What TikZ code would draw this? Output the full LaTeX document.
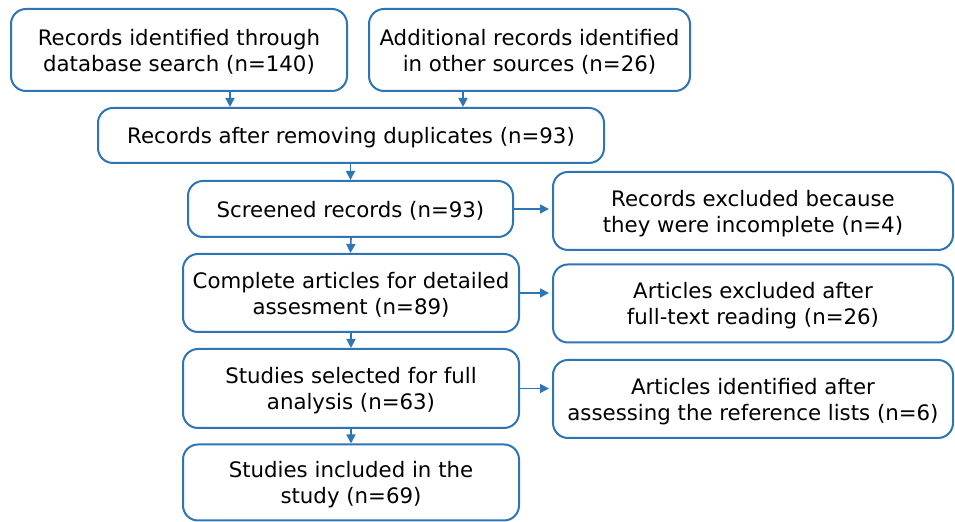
\documentclass[tikz,border=0pt]{standalone}
\usepackage{fontspec}
\setmainfont{DejaVu Sans}
\usepackage{xcolor}
\definecolor{flow-blue}{HTML}{2E75B6}
\usetikzlibrary{arrows.meta}

\begin{document}
\begin{tikzpicture}[
    x=0.5pt, y=-0.5pt,
    box/.style={
      rectangle,
      draw=flow-blue,
      line width=1pt,
      rounded corners=7.5pt,
      fill=white,
      text=black,
      inner sep=0pt,
      text depth=0pt,
      align=center,
      font=\fontsize{10.65}{13}\selectfont
    },
    arrow/.style={
      -{Triangle[length=4.5pt, width=4.5pt]},
      line width=0.8pt,
      color=flow-blue
    }
  ]
    \useasboundingbox (0,0) rectangle (955,522);

    % Sources on top
    \node[box, minimum width=168pt, minimum height=41pt]
      (db) at (179,50) {Records identified through\\database search (n=140)};
    \node[box, minimum width=160.5pt, minimum height=41pt]
      (other) at (529.5,50) {Additional records identified\\in other sources (n=26)};

    % Main column from top to bottom
    \node[box, minimum width=253pt, minimum height=27.5pt]
      (dup) at (351,135.5) {Records after removing duplicates (n=93)};
    \node[box, minimum width=162.5pt, minimum height=28pt]
      (screen) at (350.5,209) {Screened records (n=93)};
    \node[box, minimum width=168pt, minimum height=39pt]
      (full) at (351,293) {Complete articles for detailed\\assesment (n=89)};
    \node[box, minimum width=168pt, minimum height=39.5pt]
      (select) at (351,388.5) {Studies selected for full\\analysis (n=63)};
    \node[box, minimum width=168pt, minimum height=38pt]
      (incl) at (351,482.5) {Studies included in the\\study (n=69)};

    % Side boxes on the right
    \node[box, minimum width=200pt, minimum height=39pt]
      (excl) at (753,211) {Records excluded because\\they were incomplete (n=4)};
    \node[box, minimum width=200pt, minimum height=39pt]
      (read) at (753,303.5) {Articles excluded after\\full-text reading (n=26)};
    \node[box, minimum width=200pt, minimum height=39pt]
      (refs) at (753,399) {Articles identified after\\assessing the reference lists (n=6)};

    % Arrow positions into the duplicates box
    \coordinate (dbx) at (230,0);
    \coordinate (otherx) at (463,0);

    \draw[arrow] (db.south -| dbx) -- (dup.north -| dbx);
    \draw[arrow] (other.south -| otherx) -- (dup.north -| otherx);

    \draw[arrow] (dup.south -| screen.north) -- (screen.north);
    \draw[arrow] (screen.south -| full.north) -- (full.north -| screen.south);
    \draw[arrow] (full.south) -- (select.north);
    \draw[arrow] (select.south) -- (incl.north);

    % Arrows to the right
    \draw[arrow, shorten >=1.5pt] (screen.east) -- (screen.east -| excl.west);
    \draw[arrow, shorten >=1.5pt] (full.east) -- (full.east -| read.west);
    \draw[arrow, shorten >=1.5pt] (select.east) -- (select.east -| refs.west);
  \end{tikzpicture}
\end{document}
